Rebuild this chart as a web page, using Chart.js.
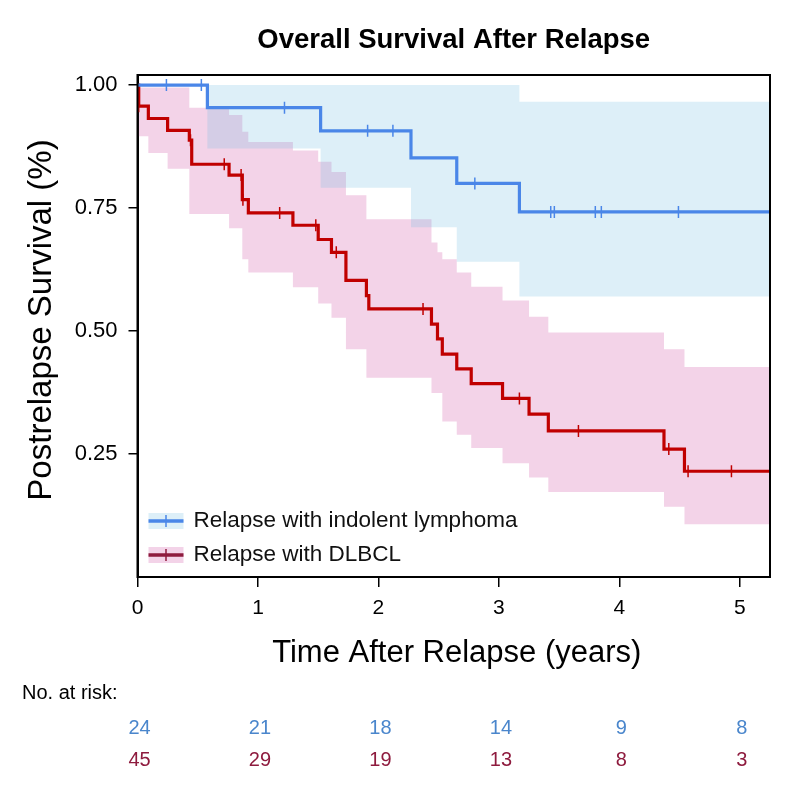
<!DOCTYPE html>
<html>
<head>
<meta charset="utf-8">
<title>Overall Survival After Relapse</title>
<script src="https://cdn.jsdelivr.net/npm/chart.js@4.4.1/dist/chart.umd.min.js"></script>
<style>
  html, body { margin: 0; padding: 0; background: #fff; }
  #wrap { width: 794px; height: 794px; }
</style>
</head>
<body>
<div id="wrap"><canvas id="km" width="794" height="794"></canvas></div>
<script>
// values (years, survival proportion)
const xTicks = [0, 1, 2, 3, 4, 5];
const yTicks = [0.25, 0.50, 0.75, 1.00];

// relapse with indolent lymphoma
const indolentTime  = [0, 0.58, 1.52, 2.27, 2.65, 3.17, 5.25];
const indolentSurv  = [1.0, 0.954, 0.907, 0.852, 0.800, 0.742, 0.742];
const indolentUpper = [1.0, 1.0, 1.0, 1.0, 1.0, 0.966, 0.966];
const indolentLower = [1.0, 0.871, 0.791, 0.711, 0.641, 0.570, 0.570];
const indolentCensor = [0.24, 0.53, 1.22, 1.91, 2.12, 2.80, 3.43, 3.46, 3.80, 3.85, 4.49];

// relapse with DLBCL
const dlbclTime  = [0, 0.01, 0.09, 0.25, 0.43, 0.45, 0.76, 0.87, 0.92, 1.29, 1.50, 1.61, 1.73,
                    1.90, 1.92, 2.44, 2.49, 2.53, 2.65, 2.77, 3.03, 3.25, 3.41, 4.37, 4.54, 5.25];
const dlbclSurv  = [1.0, 0.957, 0.932, 0.908, 0.888, 0.839, 0.817, 0.767, 0.740, 0.715, 0.686, 0.660, 0.603,
                    0.572, 0.545, 0.514, 0.484, 0.453, 0.423, 0.393, 0.363, 0.331, 0.297, 0.260, 0.215, 0.215];
const dlbclUpper = [1.0, 0.995, 0.995, 0.995, 0.954, 0.954, 0.939, 0.905, 0.884, 0.867, 0.844, 0.823, 0.776,
                    0.727, 0.727, 0.680, 0.660, 0.646, 0.619, 0.590, 0.562, 0.529, 0.497, 0.463, 0.427, 0.427];
const dlbclLower = [1.0, 0.896, 0.862, 0.830, 0.738, 0.738, 0.709, 0.646, 0.619, 0.589, 0.556, 0.527, 0.463,
                    0.405, 0.405, 0.374, 0.374, 0.316, 0.289, 0.262, 0.231, 0.202, 0.173, 0.143, 0.107, 0.107];
const dlbclCensor = [0.01, 0.44, 0.72, 0.86, 0.875, 1.18, 1.48, 1.65, 2.37, 3.17, 3.66, 4.41, 4.57, 4.93];

// numbers at risk under each x tick
const riskIndolent = [24, 21, 18, 14, 9, 8];
const riskDlbcl    = [45, 29, 19, 13, 8, 3];

const BLUE = '#4a86e8';
const RED = '#c00000';
const BLUE_BAND = 'rgba(100,180,225,0.22)';
const RED_BAND = 'rgba(220,130,190,0.35)';
const BLUE_TXT = '#4a86cc';
const RED_TXT = '#8e1b3e';
const FONT = '"Liberation Sans", Arial, Helvetica, sans-serif';

function toPts(times, vals) {
    return times.map((t, i) => ({ x: t, y: vals[i] }));
}

// KM value at time t (for placing the censor marks on the curve)
function survAt(times, vals, t) {
    let v = vals[0];
    for (let i = 0; i < times.length; i++) {
        if (times[i] <= t) v = vals[i];
    }
    return v;
}

function censorPts(times, vals, cens) {
    return cens.map(t => ({ x: t, y: survAt(times, vals, t) }));
}

function band(data, color, fill, order) {
    return {
        data: data, stepped: 'before', borderWidth: 0, pointRadius: 0,
        backgroundColor: color, fill: fill, order: order
    };
}

function drawText(ctx, text, x, y, font, color, align, sx) {
    ctx.save();
    ctx.translate(x, y);
    ctx.scale(sx || 1, 1);
    ctx.font = font;
    ctx.fillStyle = color;
    ctx.textAlign = align || 'left';
    ctx.textBaseline = 'middle';
    ctx.fillText(text, 0, 0);
    ctx.restore();
}

// frame, titles, legend and risk table
const decorations = {
    id: 'decorations',
    afterDatasetsDraw(chart) {
        const ctx = chart.ctx;
        const a = chart.chartArea;
        const xs = chart.scales.x;

        ctx.save();
        ctx.strokeStyle = '#000';
        ctx.lineWidth = 2;
        ctx.strokeRect(a.left, a.top, a.right - a.left, a.bottom - a.top);
        ctx.restore();

        // legend inside the plot
        const items = [
            { label: 'Relapse with indolent lymphoma', line: BLUE, band: BLUE_BAND, y: 521 },
            { label: 'Relapse with DLBCL', line: RED_TXT, band: RED_BAND, y: 555 }
        ];
        items.forEach(it => {
            ctx.save();
            ctx.fillStyle = it.band;
            ctx.fillRect(a.left + 11, it.y - 8, 35, 16);
            ctx.strokeStyle = it.line;
            ctx.lineWidth = 3.5;
            ctx.beginPath();
            ctx.moveTo(a.left + 11, it.y);
            ctx.lineTo(a.left + 46, it.y);
            ctx.stroke();
            ctx.lineWidth = 1.5;
            ctx.beginPath();
            ctx.moveTo(a.left + 28.5, it.y - 6);
            ctx.lineTo(a.left + 28.5, it.y + 6);
            ctx.stroke();
            ctx.restore();
            drawText(ctx, it.label, a.left + 56, it.y, '22.5px ' + FONT, '#111', 'left');
        });

        const midX = (a.left + a.right) / 2;
        drawText(ctx, 'Overall Survival After Relapse', midX, 40, 'bold 27.5px ' + FONT, '#000', 'center');
        drawText(ctx, 'Time After Relapse (years)', midX + 3, 653, '31px ' + FONT, '#000', 'center');

        ctx.save();
        ctx.translate(42, (a.top + a.bottom) / 2 - 6);
        ctx.rotate(-Math.PI / 2);
        drawText(ctx, 'Postrelapse Survival (%)', 0, 0, '33px ' + FONT, '#000', 'center');
        ctx.restore();

        // numbers at risk
        drawText(ctx, 'No. at risk:', 22, 693, '20px ' + FONT, '#000', 'left');
        xTicks.forEach((t, i) => {
            const px = xs.getPixelForValue(t);
            drawText(ctx, String(riskIndolent[i]), px + 2, 728, '20px ' + FONT, BLUE_TXT, 'center');
            drawText(ctx, String(riskDlbcl[i]), px + 2, 760, '20px ' + FONT, RED_TXT, 'center');
        });
    }
};

Chart.defaults.font.family = FONT;

new Chart(document.getElementById('km'), {
    type: 'line',
    data: {
        datasets: [
            band(toPts(dlbclTime, dlbclUpper), RED_BAND, '+1', 10),
            band(toPts(dlbclTime, dlbclLower), RED_BAND, false, 10),
            band(toPts(indolentTime, indolentUpper), BLUE_BAND, '+1', 9),
            band(toPts(indolentTime, indolentLower), BLUE_BAND, false, 9),
            {
                data: toPts(dlbclTime, dlbclSurv), stepped: 'before', borderColor: RED,
                borderWidth: 3.2, pointRadius: 0, fill: false, order: 5
            },
            {
                data: toPts(indolentTime, indolentSurv), stepped: 'before', borderColor: BLUE,
                borderWidth: 3.2, pointRadius: 0, fill: false, order: 4
            },
            {
                data: censorPts(dlbclTime, dlbclSurv, dlbclCensor), showLine: false,
                pointStyle: 'line', rotation: 90, pointRadius: 6, borderWidth: 1.5,
                borderColor: RED, pointBorderColor: RED, order: 2
            },
            {
                data: censorPts(indolentTime, indolentSurv, indolentCensor), showLine: false,
                pointStyle: 'line', rotation: 90, pointRadius: 6, borderWidth: 1.5,
                borderColor: BLUE, pointBorderColor: BLUE, order: 1
            }
        ]
    },
    options: {
        responsive: false,
        animation: false,
        events: [],
        layout: { padding: { top: 75, right: 24, left: 0, bottom: 0 } },
        plugins: {
            legend: { display: false },
            tooltip: { enabled: false },
            title: { display: false }
        },
        scales: {
            x: {
                type: 'linear', min: 0, max: 5.25,
                afterBuildTicks: s => { s.ticks = xTicks.map(v => ({ value: v })); },
                afterFit: s => { s.height = 217; },
                ticks: { color: '#000', font: { size: 21 }, padding: 9 },
                grid: { drawOnChartArea: false, drawTicks: true, tickLength: 10, color: '#000', lineWidth: 1.5 },
                border: { display: true, color: '#000', width: 2 }
            },
            y: {
                type: 'linear', min: 0, max: 1.0204,
                afterBuildTicks: s => { s.ticks = yTicks.map(v => ({ value: v })); },
                afterFit: s => { s.width = 137.5; },
                ticks: { color: '#000', font: { size: 22 }, padding: 11, callback: v => v.toFixed(2) },
                grid: { drawOnChartArea: false, drawTicks: true, tickLength: 9, color: '#000', lineWidth: 1.5 },
                border: { display: true, color: '#000', width: 2 }
            }
        }
    },
    plugins: [decorations]
});
</script>
</body>
</html>
